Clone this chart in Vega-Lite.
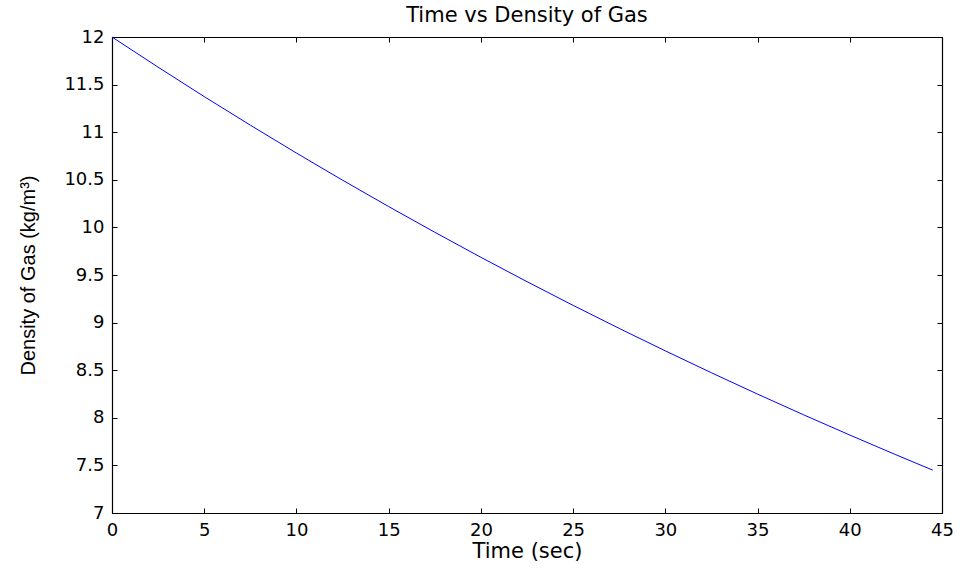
{
  "$schema": "https://vega.github.io/schema/vega-lite/v6.json",
  "width": 830,
  "height": 476,
  "autosize": {"type": "none"},
  "padding": {"left": 112, "top": 37, "right": 18, "bottom": 55},
  "background": "white",
  "title": {"text": "Time vs Density of Gas", "font": "DejaVu Sans", "fontSize": 21, "fontWeight": "normal", "color": "black", "offset": 2},
  "data": {"values": [
    {"t": 0, "rho": 12.0},
    {"t": 2.5, "rho": 11.683},
    {"t": 5, "rho": 11.374},
    {"t": 7.5, "rho": 11.074},
    {"t": 10, "rho": 10.781},
    {"t": 12.5, "rho": 10.496},
    {"t": 15, "rho": 10.219},
    {"t": 17.5, "rho": 9.949},
    {"t": 20, "rho": 9.686},
    {"t": 22.5, "rho": 9.43},
    {"t": 25, "rho": 9.181},
    {"t": 27.5, "rho": 8.939},
    {"t": 30, "rho": 8.703},
    {"t": 32.5, "rho": 8.473},
    {"t": 35, "rho": 8.249},
    {"t": 37.5, "rho": 8.031},
    {"t": 40, "rho": 7.819},
    {"t": 42.5, "rho": 7.612},
    {"t": 44.5, "rho": 7.45}
  ]},
  "config": {
    "view": {"stroke": null},
    "axis": {
      "grid": false,
      "domainColor": "black",
      "domainWidth": 1.2,
      "tickColor": "black",
      "tickSize": -5,
      "labelFont": "DejaVu Sans",
      "labelFontSize": 18,
      "labelColor": "black",
      "titleFont": "DejaVu Sans",
      "titleFontSize": 21,
      "titleFontWeight": "normal",
      "titleColor": "black"
    }
  },
  "resolve": {"axis": {"x": "independent", "y": "independent"}},
  "layer": [
    {
      "mark": {"type": "line", "color": "#0000ff", "strokeWidth": 1},
      "encoding": {
        "x": {"field": "t", "type": "quantitative", "scale": {"domain": [0, 45], "nice": false},
          "axis": {"title": "Time (sec)", "format": "~g", "values": [0,5,10,15,20,25,30,35,40,45], "labelPadding": 13, "titlePadding": 1, "labelFlush": false}},
        "y": {"field": "rho", "type": "quantitative", "scale": {"domain": [7, 12], "nice": false, "zero": false},
          "axis": {"title": "Density of Gas (kg/m³)", "titleFont": "Liberation Sans", "titleFontSize": 20, "format": "~g", "values": [7,7.5,8,8.5,9,9.5,10,10.5,11,11.5,12], "labelPadding": 13, "titlePadding": 25, "labelFlush": false}}
      }
    },
    {
      "mark": {"type": "line", "color": "#0000ff", "strokeWidth": 1, "opacity": 0},
      "encoding": {
        "x": {"field": "t", "type": "quantitative", "scale": {"domain": [0, 45], "nice": false},
          "axis": {"orient": "top", "title": null, "labels": false, "values": [0,5,10,15,20,25,30,35,40,45]}},
        "y": {"field": "rho", "type": "quantitative", "scale": {"domain": [7, 12], "nice": false, "zero": false},
          "axis": {"orient": "right", "title": null, "labels": false, "values": [7,7.5,8,8.5,9,9.5,10,10.5,11,11.5,12]}}
      }
    }
  ]
}
